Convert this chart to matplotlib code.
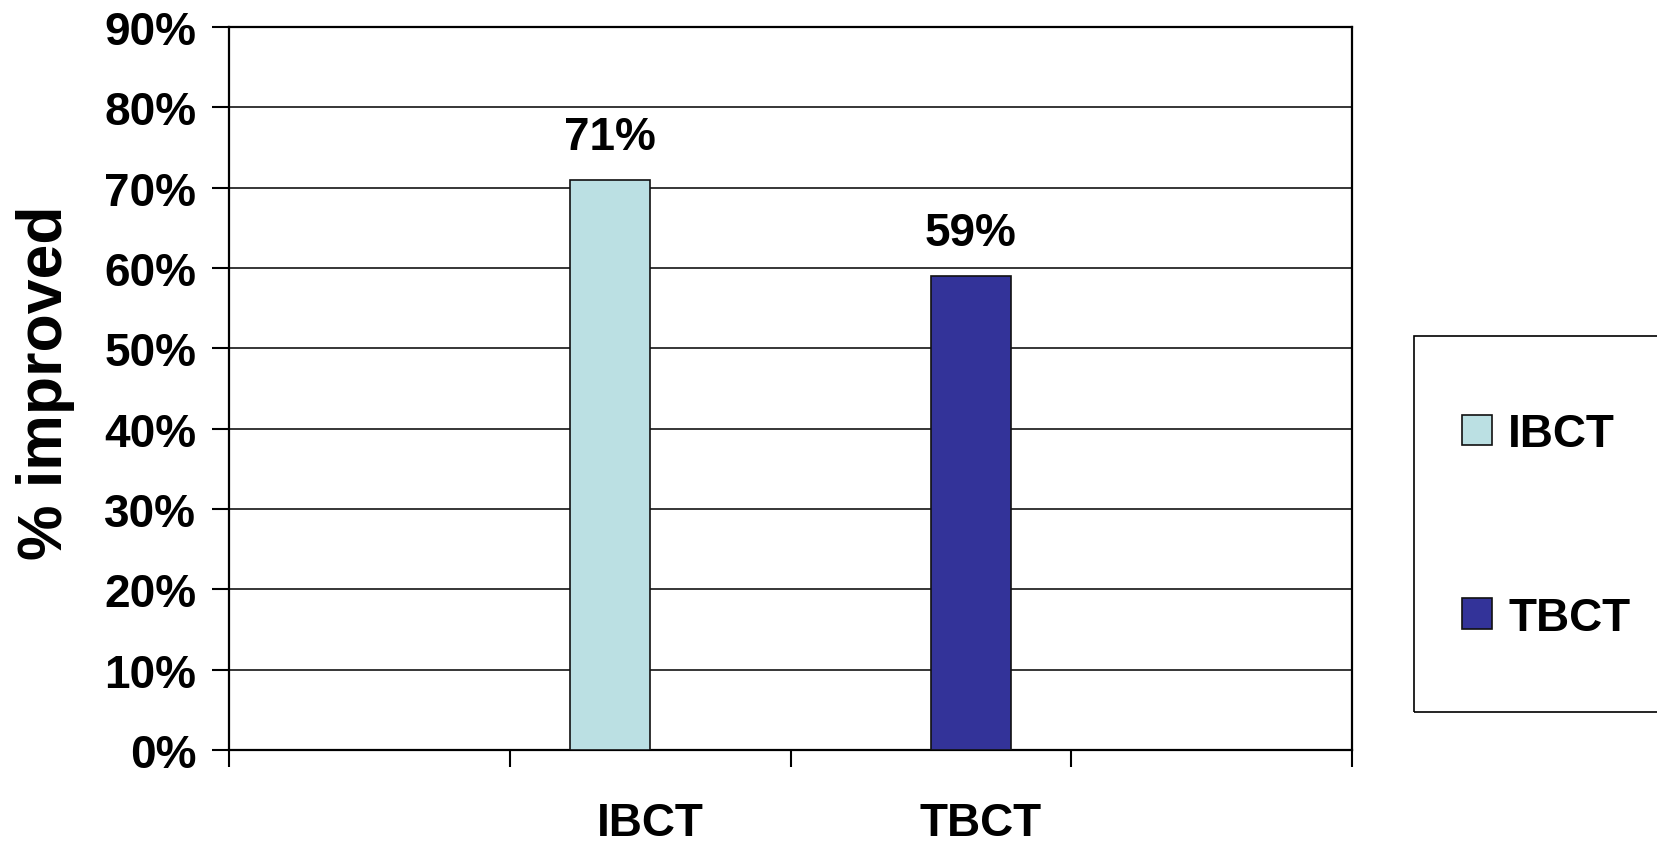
import matplotlib
matplotlib.use("Agg")
import matplotlib.pyplot as plt
from matplotlib.patches import Rectangle

plt.rcParams['font.family'] = ['Liberation Sans', 'DejaVu Sans']
plt.rcParams['font.weight'] = 'bold'

# data
categories = ['IBCT', 'TBCT']
improved = [71, 59]
colors = ['#BBE0E3', '#333399']
yticks = [0, 10, 20, 30, 40, 50, 60, 70, 80, 90]

# layout: 4 category slots, bars sit either side of the middle slot centres
slot_centres = [1.5, 2.5]
side = [-1, 1]
bar_w = 0.285
label_pos = [1.5, 2.675]

fig = plt.figure(figsize=(16.58, 8.45), dpi=100)
ax = fig.add_axes([0.1384, 0.1112, 0.8154 - 0.1384, 0.9669 - 0.1112])

bars = []
for i, cat in enumerate(categories):
    x = slot_centres[i] + side[i] * bar_w / 2
    b = ax.bar(x, improved[i], width=bar_w, color=colors[i],
               edgecolor='#111111', linewidth=1.2, label=cat, zorder=3)
    bars.append(b)
    ax.annotate(f'{improved[i]}%', xy=(x, improved[i]), xytext=(0, 22),
                textcoords='offset points', ha='center', va='baseline',
                fontsize=33, fontweight='bold')

ax.set_xlim(0, 4)
ax.set_ylim(0, 90)
ax.set_yticks(yticks)
ax.set_yticklabels([f'{v}%' for v in yticks])
ax.yaxis.grid(True, color='black', linewidth=1.1, zorder=0)
ax.set_axisbelow(True)

ax.set_xticks([0, 1, 2, 3, 4])
ax.set_xticklabels([])
ax.set_xticks(label_pos, minor=True)
ax.set_xticklabels(categories, minor=True)
ax.tick_params(axis='x', which='major', length=12, width=1.5, direction='out')
ax.tick_params(axis='x', which='minor', length=0, pad=37, labelsize=33)
ax.tick_params(axis='y', length=12, width=1.5, pad=12, labelsize=33)

for s in ax.spines.values():
    s.set_linewidth(1.6)
    s.set_color('black')

fig.text(46 / 1658, 1 - 383 / 845, '% improved', rotation=90,
         ha='center', va='center', fontsize=45, fontweight='bold')

# legend with a separate frame running off the right edge
fig.legend(handles=[b[0] for b in bars], labels=categories, frameon=False,
           loc='center left', bbox_to_anchor=(1462 / 1658, 1 - 527 / 845),
           borderpad=0, borderaxespad=0, handlelength=0.655, handleheight=0.655,
           handletextpad=0.35, labelspacing=3.05,
           prop={'size': 33, 'weight': 'bold'})
fig.patches.append(Rectangle((1414 / 1658, 1 - 713 / 845), 0.3, (713 - 336.5) / 845,
                             transform=fig.transFigure, fill=False,
                             edgecolor='black', linewidth=1.2))

fig.savefig('out.png', dpi=100)
